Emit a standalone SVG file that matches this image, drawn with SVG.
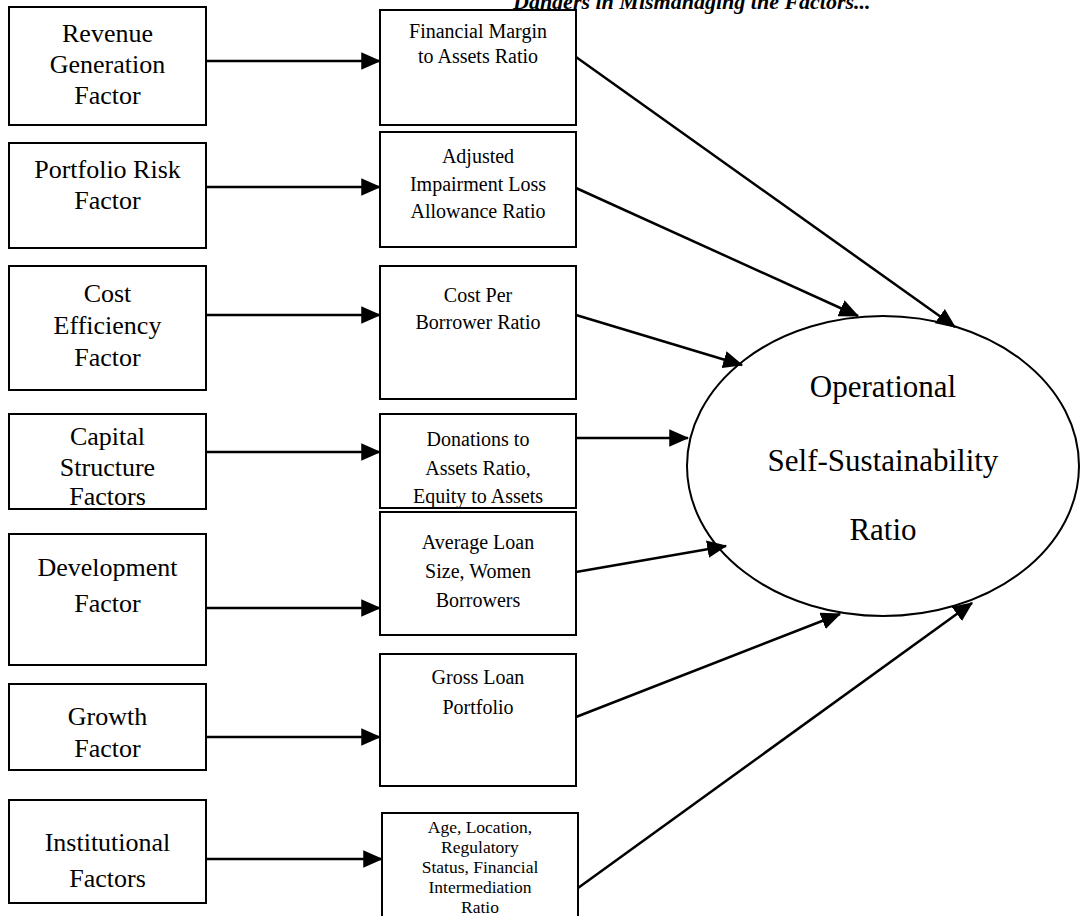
<svg xmlns="http://www.w3.org/2000/svg" width="1086" height="916" viewBox="0 0 1086 916">
<style>
.box{fill:#fff;stroke:#000;stroke-width:2}
.lt{font-family:"Liberation Serif","Times New Roman",serif;font-size:26px;text-anchor:middle;fill:#000}
.mt{font-family:"Liberation Serif","Times New Roman",serif;font-size:20px;text-anchor:middle;fill:#000}
.st{font-family:"Liberation Serif","Times New Roman",serif;font-size:17.5px;text-anchor:middle;fill:#000}
.et{font-family:"Liberation Serif","Times New Roman",serif;font-size:31px;text-anchor:middle;fill:#000}
.title{font-family:"Liberation Serif","Times New Roman",serif;font-size:22px;font-weight:bold;font-style:italic;fill:#000}
.c{stroke:#000;stroke-width:2.5;fill:none;marker-end:url(#ah)}
</style>
<defs>
<marker id="ah" markerWidth="8" markerHeight="7" refX="7.5" refY="3.5" orient="auto" markerUnits="strokeWidth">
<path d="M0,0 L8,3.5 L0,7 Z" fill="#000"/>
</marker>
</defs>
<rect width="1086" height="916" fill="#fff"/>
<text class="title" x="513" y="9">Dangers in Mismanaging the Factors...</text>

<g id="n-revenue"><rect class="box" x="9" y="7" width="197" height="118"/>
<text class="lt" x="107.5" y="42">Revenue</text><text class="lt" x="107.5" y="73">Generation</text><text class="lt" x="107.5" y="104">Factor</text></g>
<g id="n-portfolio"><rect class="box" x="9" y="143" width="197" height="105"/>
<text class="lt" x="107.5" y="178">Portfolio Risk</text><text class="lt" x="107.5" y="209">Factor</text></g>
<g id="n-cost"><rect class="box" x="9" y="266" width="197" height="124"/>
<text class="lt" x="107.5" y="302">Cost</text><text class="lt" x="107.5" y="334">Efficiency</text><text class="lt" x="107.5" y="366">Factor</text></g>
<g id="n-capital"><rect class="box" x="9" y="414" width="197" height="95"/>
<text class="lt" x="107.5" y="445">Capital</text><text class="lt" x="107.5" y="476">Structure</text><text class="lt" x="107.5" y="505">Factors</text></g>
<g id="n-development"><rect class="box" x="9" y="534" width="197" height="131"/>
<text class="lt" x="107.5" y="576">Development</text><text class="lt" x="107.5" y="612">Factor</text></g>
<g id="n-growth"><rect class="box" x="9" y="684" width="197" height="86"/>
<text class="lt" x="107.5" y="725">Growth</text><text class="lt" x="107.5" y="757">Factor</text></g>
<g id="n-institutional"><rect class="box" x="9" y="800" width="197" height="103"/>
<text class="lt" x="107.5" y="851">Institutional</text><text class="lt" x="107.5" y="887">Factors</text></g>

<g id="m-financial"><rect class="box" x="380" y="10" width="196" height="115"/>
<text class="mt" x="478" y="38">Financial Margin</text><text class="mt" x="478" y="63">to Assets Ratio</text></g>
<g id="m-adjusted"><rect class="box" x="380" y="132" width="196" height="115"/>
<text class="mt" x="478" y="163">Adjusted</text><text class="mt" x="478" y="191">Impairment Loss</text><text class="mt" x="478" y="218">Allowance Ratio</text></g>
<g id="m-costper"><rect class="box" x="380" y="266" width="196" height="133"/>
<text class="mt" x="478" y="302">Cost Per</text><text class="mt" x="478" y="329">Borrower Ratio</text></g>
<g id="m-donations"><rect class="box" x="380" y="414" width="196" height="94"/>
<text class="mt" x="478" y="446">Donations to</text><text class="mt" x="478" y="475">Assets Ratio,</text><text class="mt" x="478" y="503">Equity to Assets</text></g>
<g id="m-average"><rect class="box" x="380" y="512" width="196" height="123"/>
<text class="mt" x="478" y="549">Average Loan</text><text class="mt" x="478" y="578">Size, Women</text><text class="mt" x="478" y="607">Borrowers</text></g>
<g id="m-gross"><rect class="box" x="380" y="654" width="196" height="132"/>
<text class="mt" x="478" y="684">Gross Loan</text><text class="mt" x="478" y="714">Portfolio</text></g>
<g id="m-age"><rect class="box" x="382" y="813" width="196" height="110"/>
<text class="st" x="480" y="833">Age, Location,</text><text class="st" x="480" y="853">Regulatory</text><text class="st" x="480" y="873">Status, Financial</text><text class="st" x="480" y="893">Intermediation</text><text class="st" x="480" y="913">Ratio</text></g>

<g id="n-oss"><ellipse cx="883" cy="466" rx="196" ry="150" fill="#fff" stroke="#000" stroke-width="2"/>
<text class="et" x="883" y="397">Operational</text><text class="et" x="883" y="471">Self-Sustainability</text><text class="et" x="883" y="540">Ratio</text></g>

<g id="connectors">
<line class="c" x1="206" y1="61" x2="380" y2="61"/>
<line class="c" x1="206" y1="187" x2="380" y2="187"/>
<line class="c" x1="206" y1="315" x2="380" y2="315"/>
<line class="c" x1="206" y1="452" x2="380" y2="452"/>
<line class="c" x1="206" y1="608" x2="380" y2="608"/>
<line class="c" x1="206" y1="737" x2="380" y2="737"/>
<line class="c" x1="206" y1="859" x2="382" y2="859"/>
<line class="c" x1="576" y1="57" x2="955" y2="327"/>
<line class="c" x1="576" y1="188" x2="858" y2="316"/>
<line class="c" x1="576" y1="315" x2="742" y2="365"/>
<line class="c" x1="576" y1="438" x2="688" y2="438"/>
<line class="c" x1="576" y1="572" x2="726" y2="546"/>
<line class="c" x1="576" y1="717" x2="840" y2="614"/>
<line class="c" x1="578" y1="888" x2="972" y2="603"/>
</g>
</svg>
